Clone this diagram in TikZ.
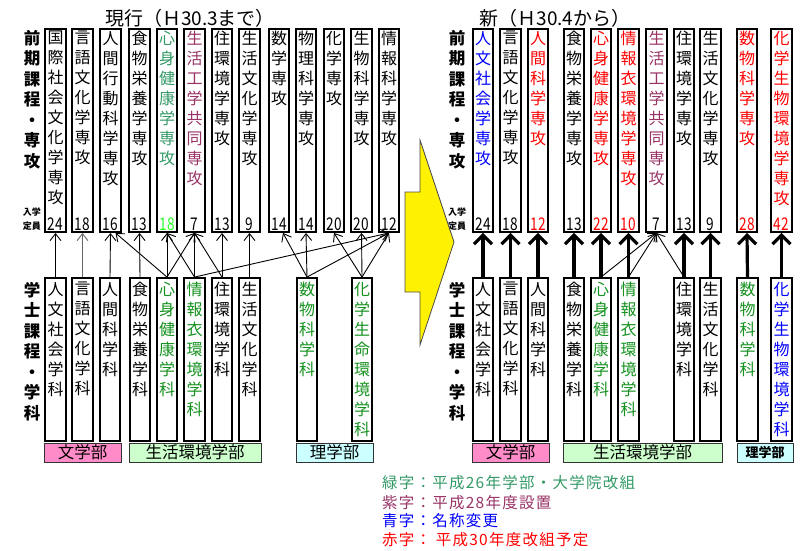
\documentclass[tikz,border=0pt]{standalone}
\usepackage{fontspec}
\setmainfont{Noto Sans CJK JP}
\newfontfamily\numfont[FakeStretch=0.78]{Noto Sans CJK JP}
\newfontfamily\hanreifont[LetterSpace=8]{Noto Sans CJK JP}
\usetikzlibrary{arrows.meta}
\definecolor{midori}{RGB}{51,153,102}
\definecolor{ryoku}{RGB}{20,145,30}
\definecolor{kimidori}{RGB}{40,255,40}
\definecolor{murasaki}{RGB}{153,51,102}
\definecolor{aka}{RGB}{255,0,0}
\definecolor{ao}{RGB}{0,0,255}
\definecolor{bunpink}{RGB}{255,140,200}
\definecolor{seipale}{RGB}{204,255,204}
\definecolor{ripale}{RGB}{204,255,255}

\begin{document}
\begin{tikzpicture}[x=1pt,y=-1pt,
    hosoya/.style={line width=0.9pt,arrows={-Straight Barb[length=7pt,width=11pt]}},
    futoya/.style={line width=3.2pt,arrows={-Straight Barb[length=9pt,width=18pt]}}]
  \tikzstyle{ubox}=[draw,line width=2.4pt,minimum width=20.5pt,minimum height=202.5pt,inner sep=0pt]
  \tikzstyle{lbox}=[draw,line width=2.4pt,minimum width=20.5pt,minimum height=162.5pt,inner sep=0pt]
  \tikzstyle{tate}=[align=center,inner sep=0pt,anchor=north,font=\fontsize{16}{20}\selectfont]
  \tikzstyle{teiin}=[inner sep=0pt,anchor=base,font=\numfont\fontsize{17.5}{17.5}\selectfont]
  \tikzstyle{midashi}=[align=center,inner sep=0pt,anchor=north,font=\bfseries\fontsize{16.5}{20.5}\selectfont]
  \tikzstyle{komidashi}=[align=center,inner sep=0pt,font=\bfseries\fontsize{9}{14}\selectfont]
  \tikzstyle{gakubu}=[draw=black!80,line width=0.8pt,minimum height=19pt,inner sep=0pt,font=\fontsize{16.5}{16.5}\selectfont]
  \tikzstyle{hanrei}=[anchor=west,inner sep=0pt,font=\hanreifont\fontsize{15.5}{15.5}\selectfont]

  \useasboundingbox (0,0) rectangle (803,550);

  % Titles
  \node[font=\fontsize{19}{19}\selectfont] (genko) at (190,18) {現行（Ｈ30.3まで）};
  \node[font=\fontsize{19}{19}\selectfont] (shin) at (555,18) {新（Ｈ30.4から）};

  % Row labels
  \foreach \x/\s in {32/a,457/b} {
    \node[midashi] (zenki\s) at (\x,30) {前\\期\\課\\程\\・\\専\\攻};
    \node[komidashi] (teiin\s) at (\x,219.5) {入学\\定員};
    \node[midashi] (gakushi\s) at (\x,282) {学\\士\\課\\程\\・\\学\\科};
  }

  % Current graduate majors
  \foreach \x/\nm/\txt/\tc/\num/\nc in {
      55.5/u1/{国\\際\\社\\会\\文\\化\\学\\専\\攻}/black/24/black,
      82.5/u2/{言\\語\\文\\化\\学\\専\\攻}/black/18/black,
      110.5/u3/{人\\間\\行\\動\\科\\学\\専\\攻}/black/16/black,
      139.5/u4/{食\\物\\栄\\養\\学\\専\\攻}/black/13/black,
      167/u5/{心\\身\\健\\康\\学\\専\\攻}/midori/18/kimidori,
      194.5/u6/{生\\活\\工\\学\\共\\同\\専\\攻}/murasaki/7/black,
      222/u7/{住\\環\\境\\学\\専\\攻}/black/13/black,
      249.5/u8/{生\\活\\文\\化\\学\\専\\攻}/black/9/black,
      279/u9/{数\\学\\専\\攻}/black/14/black,
      306/u10/{物\\理\\科\\学\\専\\攻}/black/14/black,
      334/u11/{化\\学\\専\\攻}/black/20/black,
      361.5/u12/{生\\物\\科\\学\\専\\攻}/black/20/black,
      389/u13/{情\\報\\科\\学\\専\\攻}/black/12/black} {
    \node[ubox] (\nm) at (\x,130.5) {};
    \node[tate,text=\tc] at (\x,31) {\txt};
    \node[teiin,text=\nc] at (\x,230.5) {\num};
  }

  % Current undergraduate departments
  \foreach \x/\nm/\txt/\tc in {
      55.5/l1/{人\\文\\社\\会\\学\\科}/black,
      82.5/l2/{言\\語\\文\\化\\学\\科}/black,
      110/l3/{人\\間\\科\\学\\科}/black,
      140/l4/{食\\物\\栄\\養\\学\\科}/black,
      167/l5/{心\\身\\健\\康\\学\\科}/ryoku,
      194.5/l6/{情\\報\\衣\\環\\境\\学\\科}/ryoku,
      222/l7/{住\\環\\境\\学\\科}/black,
      249.5/l8/{生\\活\\文\\化\\学\\科}/black,
      307/l9/{数\\物\\科\\学\\科}/ryoku,
      362/l10/{化\\学\\生\\命\\環\\境\\学\\科}/ryoku} {
    \node[lbox] (\nm) at (\x,359.5) {};
    \node[tate,text=\tc] at (\x,282) {\txt};
  }

  % New graduate majors
  \foreach \x/\nm/\txt/\tc/\num/\nc in {
      483/nu1/{人\\文\\社\\会\\学\\専\\攻}/ao/24/black,
      510.5/nu2/{言\\語\\文\\化\\学\\専\\攻}/black/18/black,
      538/nu3/{人\\間\\科\\学\\専\\攻}/aka/12/aka,
      574/nu4/{食\\物\\栄\\養\\学\\専\\攻}/black/13/black,
      601/nu5/{心\\身\\健\\康\\学\\専\\攻}/aka/22/aka,
      628.5/nu6/{情\\報\\衣\\環\\境\\学\\専\\攻}/aka/10/aka,
      656.5/nu7/{生\\活\\工\\学\\共\\同\\専\\攻}/murasaki/7/black,
      684/nu8/{住\\環\\境\\学\\専\\攻}/black/13/black,
      710.5/nu9/{生\\活\\文\\化\\学\\専\\攻}/black/9/black,
      747/nu10/{数\\物\\科\\学\\専\\攻}/aka/28/aka,
      781.5/nu11/{化\\学\\生\\物\\環\\境\\学\\専\\攻}/aka/42/aka} {
    \node[ubox] (\nm) at (\x,130.5) {};
    \node[tate,text=\tc] at (\x,31) {\txt};
    \node[teiin,text=\nc] at (\x,230.5) {\num};
  }

  % New undergraduate departments
  \foreach \x/\nm/\txt/\tc in {
      483/nl1/{人\\文\\社\\会\\学\\科}/black,
      510.5/nl2/{言\\語\\文\\化\\学\\科}/black,
      538/nl3/{人\\間\\科\\学\\科}/black,
      574/nl4/{食\\物\\栄\\養\\学\\科}/black,
      601/nl5/{心\\身\\健\\康\\学\\科}/ryoku,
      628.5/nl6/{情\\報\\衣\\環\\境\\学\\科}/ryoku,
      684/nl7/{住\\環\\境\\学\\科}/black,
      710.5/nl8/{生\\活\\文\\化\\学\\科}/black,
      747.5/nl9/{数\\物\\科\\学\\科}/ryoku,
      781.5/nl10/{化\\学\\生\\物\\環\\境\\学\\科}/ao} {
    \node[lbox] (\nm) at (\x,359.5) {};
    \node[tate,text=\tc] at (\x,282) {\txt};
  }

  % Faculties
  \node[gakubu,fill=bunpink,minimum width=77pt] (bun) at (82.5,452.5) {文学部};
  \node[gakubu,fill=seipale,minimum width=132pt] (sei) at (195,452.5) {生活環境学部};
  \node[gakubu,fill=ripale,minimum width=77pt] (ri) at (334.5,452.5) {理学部};
  \node[gakubu,fill=bunpink,minimum width=77pt] (nbun) at (510.5,452.5) {文学部};
  \node[gakubu,fill=seipale,minimum width=159pt] (nsei) at (642.5,452.5) {生活環境学部};
  \node[gakubu,fill=ripale,minimum width=56pt,font=\bfseries\fontsize{13}{13}\selectfont] (nri) at (765,452.5) {理学部};

  % Current links
  \draw[hosoya] (l1.north) -- (u1.south);
  \draw[hosoya,black!60] (l2.north) -- (u2.south);
  \draw[hosoya] (l3.north) -- (u3.south);
  \draw[hosoya] (l4.north) -- (u4.south);
  \draw[hosoya] (l5.north) -- (u5.south);
  \draw[hosoya] (l5.north) -- ([xshift=5pt]u3.south);
  \draw[hosoya] (l5.north) -- (u6.south);
  \draw[hosoya] (l6.north) -- (u6.south);
  \draw[hosoya] (l6.north) -- (u5.south);
  \draw[hosoya] (l6.north) -- (u13.south);
  \draw[hosoya] (l7.north) -- (u7.south);
  \draw[hosoya] (l7.north) -- (u6.south);
  \draw[hosoya] (l8.north) -- (u8.south);
  \draw[hosoya] (l9.north) -- ([xshift=4pt]u9.south);
  \draw[hosoya] (l9.north) -- (u10.south);
  \draw[hosoya] (l9.north) -- (u13.south);
  \draw[hosoya] (l10.north) -- (u11.south);
  \draw[hosoya] (l10.north) -- (u12.south);
  \draw[hosoya] (l10.north) -- (u13.south);

  % New links
  \foreach \a/\b in {nl1/nu1,nl2/nu2,nl3/nu3,nl4/nu4,nl5/nu5,nl6/nu6,
                     nl7/nu8,nl8/nu9,nl9/nu10,nl10/nu11}
    \draw[futoya] (\a.north) -- (\b.south);
  \draw[hosoya] (nl5.north) -- (nu7.south);
  \draw[hosoya] (nl6.north) -- (nu7.south);
  \draw[hosoya] (nl7.north) -- (nu7.south);

  % Big arrow
  \draw[fill=yellow,draw=black!70,line width=0.8pt] (420,140) -- (454,242) -- (420,345)
    -- (420,292) -- (405,292) -- (405,192) -- (420,192) -- cycle;

  % Legend
  \node[hanrei,text=midori] (midoriji) at (382,483) {緑字：平成26年学部・大学院改組};
  \node[hanrei,text=murasaki] (murasakiji) at (382,502.5) {紫字：平成28年度設置};
  \node[hanrei,text=ao] (aoji) at (382,521) {青字：名称変更};
  \node[hanrei,text=aka] (akaji) at (382,540) {赤字： 平成30年度改組予定};
\end{tikzpicture}
\end{document}
